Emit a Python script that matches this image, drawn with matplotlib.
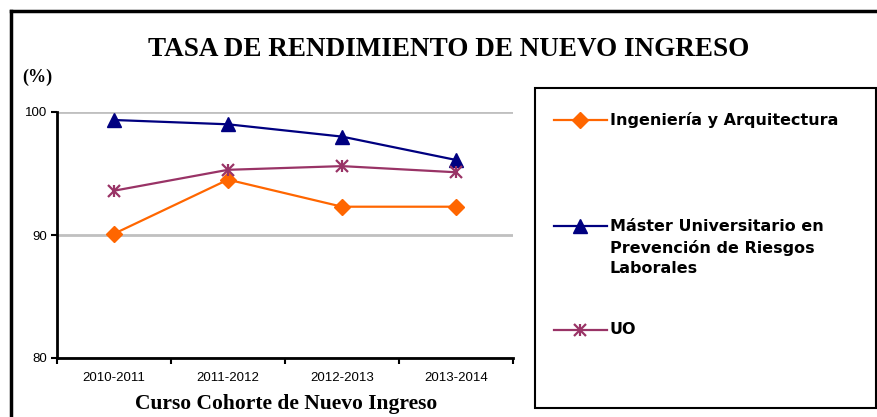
import matplotlib
matplotlib.use('Agg')
import matplotlib.pyplot as plt
from matplotlib.lines import Line2D
from matplotlib.patches import Rectangle

# Data
cursos = ["2010-2011", "2011-2012", "2012-2013", "2013-2014"]
ingenieria = [90.1, 94.5, 92.3, 92.3]
master = [99.35, 99.0, 98.0, 96.1]
uo = [93.6, 95.3, 95.6, 95.1]

series_labels = [
    "Ingeniería y Arquitectura",
    "Máster Universitario en\nPrevención de Riesgos\nLaborales",
    "UO",
]

W, H = 878, 417
fig = plt.figure(figsize=(W / 100, H / 100), dpi=100)
fig.patch.set_facecolor('white')

def fx(px):
    return px / W

def fy(py):
    return 1 - py / H

ax = fig.add_axes([fx(57), fy(358), fx(513) - fx(57), fy(112) - fy(358)])

x = range(len(cursos))
l1, = ax.plot(x, ingenieria, color='#FF6600', lw=1.6, marker='D', ms=8,
              mec='#FF6600', mfc='#FF6600')
l2, = ax.plot(x, master, color='#000080', lw=1.6, marker='^', ms=10,
              mec='#000080', mfc='#000080')
l3, = ax.plot(x, uo, color='#993366', lw=1.6, marker='x', ms=9, mew=1.6)
# add a vertical bar to get the asterisk look
ax.plot(x, uo, color='#993366', lw=0, marker='|', ms=9, mew=1.6)

ax.set_xlim(-0.5, len(cursos) - 0.5)
ax.set_ylim(80, 100)
ax.set_yticks([80, 90, 100])
ax.set_xticks([i - 0.5 for i in range(len(cursos) + 1)])
ax.set_xticklabels([])
ax.set_xticks(list(x), minor=True)
ax.set_xticklabels(cursos, minor=True, fontsize=9.5, family='Liberation Sans')
ax.tick_params(axis='x', which='minor', length=0, pad=10)
ax.tick_params(axis='x', which='major', length=4, width=1.5, direction='out')
ax.tick_params(axis='y', length=4, width=1.5, direction='out', labelsize=9.5, pad=3)
for lab in ax.get_yticklabels():
    lab.set_family('Liberation Sans')

ax.yaxis.grid(True, color='#c0c0c0', lw=2)
ax.set_axisbelow(True)
for s in ['top', 'right']:
    ax.spines[s].set_visible(False)
ax.spines['left'].set_linewidth(2)
ax.spines['bottom'].set_linewidth(2)

# texts
fig.text(fx(449), fy(50), "TASA DE RENDIMIENTO DE NUEVO INGRESO", ha='center',
         va='center', family='Liberation Serif', weight='bold', fontsize=19.5)
fig.text(fx(37), fy(77), "(%)", ha='center', va='center',
         family='Liberation Serif', weight='bold', fontsize=13)
fig.text(fx(286), fy(404), "Curso Cohorte de Nuevo Ingreso", ha='center',
         va='center', family='Liberation Serif', weight='bold', fontsize=15.5)

# outer frame (top and left only visible)
fig.add_artist(Line2D([fx(11), fx(11)], [fy(11), 0], color='black', lw=2.5,
                      transform=fig.transFigure))
fig.add_artist(Line2D([fx(11), 1], [fy(11), fy(11)], color='black', lw=2.5,
                      transform=fig.transFigure))

# legend box
fig.add_artist(Rectangle((fx(535), fy(408)), fx(876) - fx(535), fy(88) - fy(408),
                         fill=False, ec='black', lw=1.5, transform=fig.transFigure))
entry_y = [120, 226, 330]
for line, lab, ey in zip([l1, l2, l3], series_labels, entry_y):
    fig.add_artist(Line2D([fx(554), fx(607)], [fy(ey), fy(ey)],
                          color=line.get_color(), lw=1.6,
                          transform=fig.transFigure))
    if line is l3:
        for m in ['x', '|']:
            fig.add_artist(Line2D([fx(580)], [fy(ey)], color=line.get_color(), lw=0,
                                  marker=m, ms=9, mew=1.6, transform=fig.transFigure))
    else:
        fig.add_artist(Line2D([fx(580)], [fy(ey)], color=line.get_color(), lw=0,
                              marker=line.get_marker(), ms=line.get_markersize(),
                              transform=fig.transFigure))
    if '\n' in lab:
        fig.text(fx(610), fy(ey - 7), lab, ha='left', va='top',
                 family='DejaVu Sans', weight='bold', fontsize=11.5, linespacing=1.45)
    else:
        fig.text(fx(610), fy(ey), lab, ha='left', va='center',
                 family='DejaVu Sans', weight='bold', fontsize=11.5)

fig.savefig('out.png', dpi=100)
